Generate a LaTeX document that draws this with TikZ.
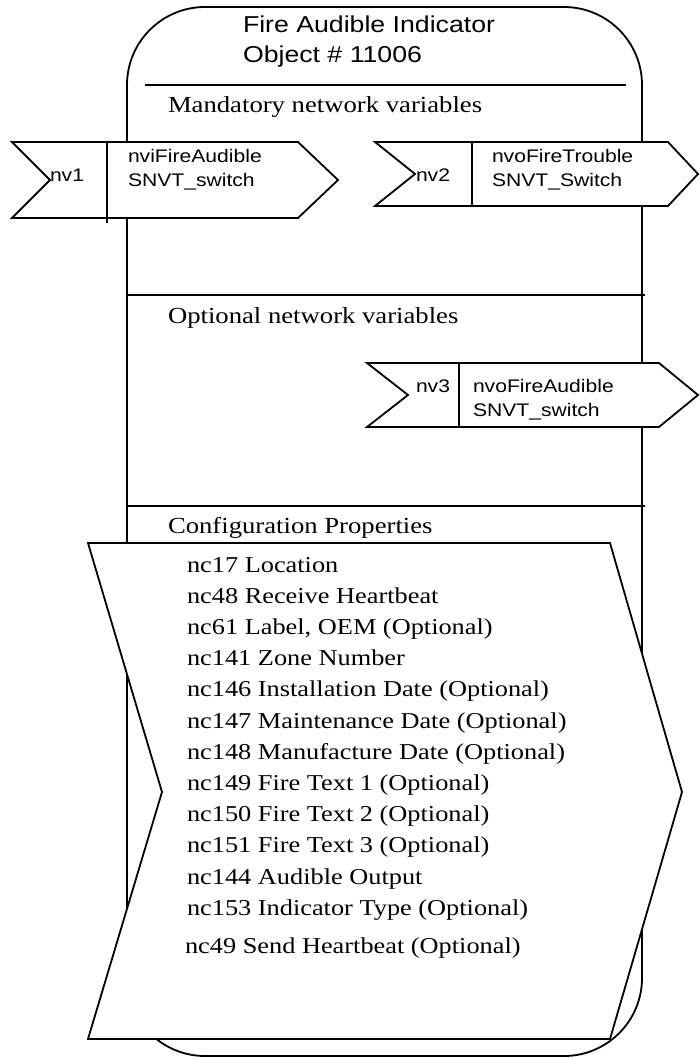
\documentclass[tikz,border=0pt]{standalone}
\usepackage{fontspec}
\setmainfont{Liberation Serif}
\newfontfamily\arialf{Liberation Sans}
\usepackage{graphicx}
\newcommand\hx[1]{\scalebox{1.16}[1]{#1}}
\begin{document}
\begin{tikzpicture}[x=1pt,y=-1pt,
  lw/.style={line width=1.8pt, line join=miter},
  txt/.style={anchor=base west, inner sep=0pt, outer sep=0pt},
  ttl/.style={txt, font=\arialf\fontsize{23}{27}\selectfont},
  hdr/.style={txt, font=\fontsize{23}{27}\selectfont},
  itm/.style={txt, font=\fontsize{22.7}{27}\selectfont},
  nvt/.style={txt, font=\arialf\fontsize{18.2}{22}\selectfont},
  box/.style={lw, fill=white}]
\useasboundingbox (0,0) rectangle (699,1059);
% outer object shape
\draw[lw, rounded corners=78pt] (127,7) rectangle (642,1056);
% dividers
\draw[lw] (145,85) -- (626,85);
\draw[lw] (127,295) -- (645,295);
\draw[lw] (127,506) -- (645,506);
% nv1
\draw[box] (12,142) -- (298,142) -- (338,180) -- (298,218) -- (12,218) -- (50,180) -- cycle;
\draw[lw] (107,142) -- (107,223);
% nv2
\draw[box] (375,142) -- (668,142) -- (698,174) -- (668,206) -- (375,206) -- (415,174) -- cycle;
\draw[lw] (472,142) -- (472,206);
% nv3
\draw[box] (367,363) -- (659,363) -- (698,395) -- (659,427) -- (367,427) -- (408,395) -- cycle;
\draw[lw] (459,363) -- (459,427);
% configuration chevron
\draw[box] (88,543) -- (610,543) -- (682,792) -- (610,1039) -- (88,1039) -- (162,792) -- cycle;
% texts
\node[ttl] (t1) at (243,33) {\hx{Fire Audible Indicator}};
\node[ttl] (t2) at (243,63) {\hx{Object \# 11006}};
\node[hdr] (mand) at (168,113) {\hx{Mandatory network variables}};
\node[hdr] (opt) at (168,323) {\hx{Optional network variables}};
\node[hdr] (conf) at (168,533) {\hx{Configuration Properties}};
\node[nvt] (nv1) at (50,182) {\hx{nv1}};
\node[nvt] (nv1a) at (128,163) {\hx{nviFireAudible}};
\node[nvt] (nv1b) at (128,187) {\hx{SNVT\_switch}};
\node[nvt] (nv2) at (416,182) {\hx{nv2}};
\node[nvt] (nv2a) at (492,163) {\hx{nvoFireTrouble}};
\node[nvt] (nv2b) at (492,187) {\hx{SNVT\_Switch}};
\node[nvt] (nv3) at (416,392) {\hx{nv3}};
\node[nvt] (nv3a) at (473,392) {\hx{nvoFireAudible}};
\node[nvt] (nv3b) at (473,416) {\hx{SNVT\_switch}};
\foreach \t [count=\i from 0] in {nc17 Location, nc48 Receive Heartbeat, {nc61 Label, OEM (Optional)}, nc141 Zone Number, nc146 Installation Date (Optional), nc147 Maintenance Date (Optional), nc148 Manufacture Date (Optional), nc149 Fire Text 1 (Optional), nc150 Fire Text 2 (Optional), nc151 Fire Text 3 (Optional), nc144 Audible Output, nc153 Indicator Type (Optional)}
  \node[itm] (c\i) at (187,572+31.2*\i) {\hx{\t}};
\node[itm] (c49) at (185,953) {\hx{nc49 Send Heartbeat (Optional)}};
\end{tikzpicture}
\end{document}
